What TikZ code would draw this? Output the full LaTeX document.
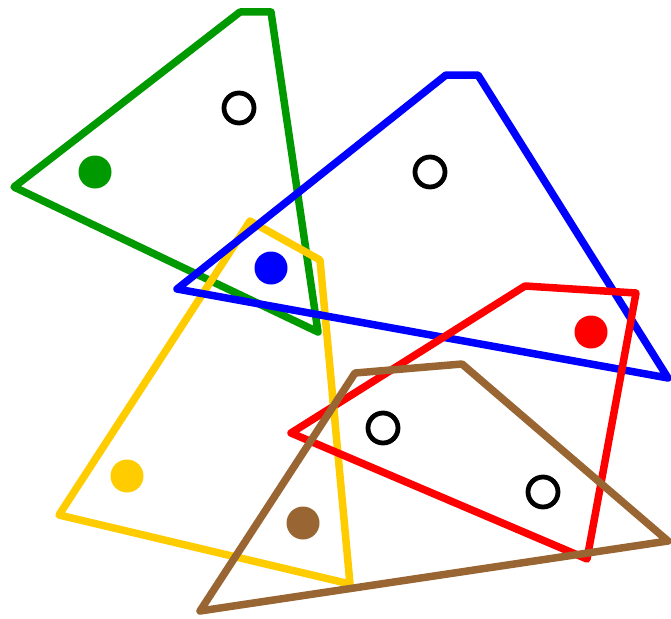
\documentclass[tikz,border=0pt]{standalone}
\usepackage{tikz}
\definecolor{pgreen}{HTML}{009900}
\definecolor{pblue}{HTML}{0000FF}
\definecolor{pyellow}{HTML}{FFCC00}
\definecolor{pred}{HTML}{FF0000}
\definecolor{pbrown}{HTML}{996633}
\begin{document}
\begin{tikzpicture}[x=1pt, y=-1pt]
  \tikzset{
    region/.style={line width=7.5pt, line join=round},
    site/.style={fill=#1},
    probe/.style={draw=black, line width=4.8pt}
  }
  \useasboundingbox (0,0) rectangle (671,618);

  % Regions, drawn in stacking order

  % Green
  \draw[region, pgreen] (240,12) -- (271,12) -- (318,332) -- (14,187) -- cycle;
  \fill[site=pgreen] (95,172) circle (16.5);
  \draw[probe] (239,108) circle (15);

  % Yellow
  \draw[region, pyellow] (250,221) -- (320,260) -- (350,584) -- (59,515) -- cycle;
  \fill[site=pyellow] (127,476) circle (16.5);

  % Blue
  \draw[region, pblue] (446,75) -- (478,75) -- (668,378) -- (177,289) -- cycle;
  \fill[site=pblue] (271,268) circle (16.5);
  \draw[probe] (430,172) circle (15);

  % Red
  \draw[region, pred] (525,286) -- (636,293) -- (587,559) -- (291,433) -- cycle;
  \fill[site=pred] (591,332) circle (16.5);
  \draw[probe] (383,428) circle (15);
  \draw[probe] (543,492) circle (15);

  % Yellow edge passes over red here
  \begin{scope}
    \clip (334,407) circle (14);
    \draw[region, pyellow] (320,260) -- (350,584);
  \end{scope}

  % Brown
  \draw[region, pbrown] (355,373) -- (462,364) -- (668,541) -- (200,611) -- cycle;
  \fill[site=pbrown] (303,523) circle (16.5);

\end{tikzpicture}
\end{document}
